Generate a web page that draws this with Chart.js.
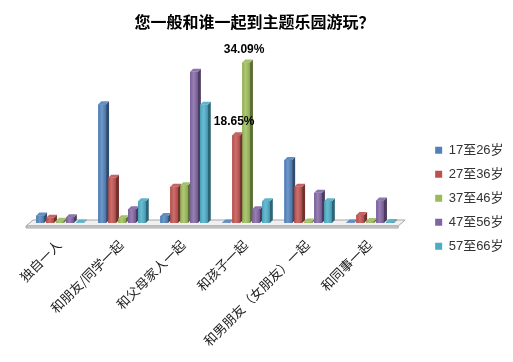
<!DOCTYPE html>
<html>
<head>
<meta charset="utf-8">
<script src="https://cdn.jsdelivr.net/npm/chart.js@4/dist/chart.umd.min.js"></script>
<style>
body { margin: 0; background: #fff; }
#wrap { width: 513px; height: 362px; }
</style>
</head>
<body>
<div id="wrap"><canvas id="myChart" width="513" height="362"></canvas></div>
<script>
var categories = ['独自一人', '和朋友/同学一起', '和父母家人一起', '和孩子一起', '和男朋友（女朋友）一起', '和同事一起'];
var ageGroups = ['17至26岁', '27至36岁', '37至46岁', '47至56岁', '57至66岁'];
var age17to26 = [1.6, 25.2, 1.5, 0.1, 13.4, 0.1];
var age27to36 = [1.1, 9.6, 7.7, 18.65, 7.7, 1.7];
var age37to46 = [0.5, 1.0, 8.0, 34.09, 0.3, 0.4];
var age47to56 = [1.2, 2.9, 32.1, 2.9, 6.4, 4.8];
var age57to66 = [0.1, 4.6, 25.1, 4.6, 4.6, 0.2];
var colors = ['#4F81BD', '#C0504D', '#9BBB59', '#8064A2', '#4BACC6'];
// [series, category] of the bars that carry a value label
var labelledBars = [[2, 3], [1, 3]];

var seriesValues = [age17to26, age27to36, age37to46, age47to56, age57to66];

function shade(hex, f) {
    var n = parseInt(hex.slice(1), 16);
    var c = [(n >> 16) & 255, (n >> 8) & 255, n & 255].map(function (v) {
        v = f < 0 ? v * (1 + f) : v + (255 - v) * f;
        return Math.round(v);
    });
    return 'rgb(' + c.join(',') + ')';
}

var D = 3; // depth of the fake 3d

var bar3d = {
    id: 'bar3d',
    beforeDatasetsDraw: function (chart) {
        var ctx = chart.ctx, a = chart.chartArea;
        var b = a.bottom;
        ctx.save();
        ctx.fillStyle = '#f0f0f0';
        ctx.strokeStyle = '#a6a6a6';
        ctx.lineWidth = 1;
        ctx.beginPath();
        ctx.moveTo(a.left - 3, b + 3);
        ctx.lineTo(a.right - 3, b + 3);
        ctx.lineTo(a.right + 4, b - 3);
        ctx.lineTo(a.left + 4, b - 3);
        ctx.closePath();
        ctx.fill();
        ctx.stroke();
        ctx.fillStyle = '#d9d9d9';
        ctx.beginPath();
        ctx.moveTo(a.left - 3, b + 3);
        ctx.lineTo(a.right - 3, b + 3);
        ctx.lineTo(a.right - 3, b + 5);
        ctx.lineTo(a.left - 3, b + 5);
        ctx.closePath();
        ctx.fill();
        ctx.stroke();
        ctx.restore();
    },
    afterDatasetsDraw: function (chart) {
        var ctx = chart.ctx;
        ctx.save();
        for (var c = 0; c < categories.length; c++) {
            for (var s = 0; s < chart.data.datasets.length; s++) {
                var bar = chart.getDatasetMeta(s).data[c];
                var p = bar.getProps(['x', 'y', 'base', 'width'], true);
                var col = colors[s];
                var l = p.x - p.width / 2, r = p.x + p.width / 2;
                var g = ctx.createLinearGradient(l, 0, r, 0);
                g.addColorStop(0, shade(col, -0.05));
                g.addColorStop(0.45, shade(col, 0.18));
                g.addColorStop(1, shade(col, -0.1));
                ctx.fillStyle = g;
                ctx.fillRect(l, p.y, p.width, p.base - p.y);
                // side
                ctx.fillStyle = shade(col, -0.4);
                ctx.beginPath();
                ctx.moveTo(r, p.base);
                ctx.lineTo(r, p.y);
                ctx.lineTo(r + D, p.y - D);
                ctx.lineTo(r + D, p.base - D);
                ctx.closePath();
                ctx.fill();
                // top
                ctx.fillStyle = shade(col, 0.1);
                ctx.beginPath();
                ctx.moveTo(l, p.y);
                ctx.lineTo(r, p.y);
                ctx.lineTo(r + D, p.y - D);
                ctx.lineTo(l + D, p.y - D);
                ctx.closePath();
                ctx.fill();
            }
        }
        ctx.fillStyle = '#000';
        ctx.font = 'bold 12px "Liberation Sans", Arial, sans-serif';
        ctx.textAlign = 'center';
        ctx.textBaseline = 'bottom';
        labelledBars.forEach(function (lb) {
            var bar = chart.getDatasetMeta(lb[0]).data[lb[1]];
            var v = seriesValues[lb[0]][lb[1]];
            ctx.fillText(v.toFixed(2) + '%', bar.x - 2, bar.y - 7);
        });
        ctx.restore();
    }
};

var ctx = document.getElementById('myChart').getContext('2d');
var myChart = new Chart(ctx, {
    type: 'bar',
    data: {
        labels: categories,
        datasets: seriesValues.map(function (vals, i) {
            return {
                label: ageGroups[i],
                data: vals,
                backgroundColor: colors[i],
                borderWidth: 0
            };
        })
    },
    options: {
        responsive: false,
        animation: false,
        categoryPercentage: 0.8,
        barPercentage: 0.78,
        layout: {
            padding: { left: 0, right: 4, bottom: 0 }
        },
        plugins: {
            title: {
                display: true,
                text: '您一般和谁一起到主题乐园游玩？',
                color: '#000',
                font: { family: '"Noto Sans CJK SC"', size: 16, weight: 'bold' },
                padding: { top: 12, bottom: 27 }
            },
            legend: {
                position: 'right',
                title: {
                    display: true,
                    text: '',
                    font: { size: 12 },
                    padding: { top: 10, bottom: 10 }
                },
                labels: {
                    boxWidth: 7,
                    boxHeight: 7,
                    padding: 11,
                    color: '#333',
                    font: { family: '"Liberation Sans", "Noto Sans CJK SC"', size: 13 }
                }
            },
            tooltip: { enabled: false }
        },
        scales: {
            x: {
                grid: { display: false, drawTicks: false },
                border: { display: false },
                ticks: {
                    minRotation: 45,
                    maxRotation: 45,
                    autoSkip: false,
                    padding: 14,
                    labelOffset: -1,
                    color: '#222',
                    font: { family: '"Noto Sans CJK SC"', size: 13 }
                },
                afterFit: function (s) { s.height = 139; }
            },
            y: {
                position: 'left',
                min: 0,
                max: 35,
                grid: { display: false },
                border: { display: false },
                ticks: { display: false },
                afterFit: function (s) { s.width = 29; }
            },
            gap: {
                type: 'linear',
                position: 'right',
                grid: { display: false },
                border: { display: false },
                ticks: { display: false },
                afterFit: function (s) { s.width = 23; }
            }
        }
    },
    plugins: [bar3d]
});
</script>
</body>
</html>
